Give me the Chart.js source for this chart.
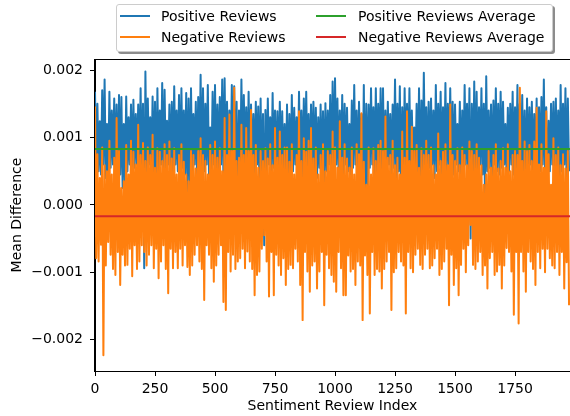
<!DOCTYPE html>
<html>
<head>
<meta charset="utf-8">
<script src="https://cdn.jsdelivr.net/npm/chart.js@4.4.1/dist/chart.umd.min.js"></script>
<style>
html,body{margin:0;padding:0;background:#fff;}
#wrap{position:relative;width:570px;height:416px;overflow:hidden;background:#fff;}
#c{position:absolute;left:0;top:0;}
#legend{position:absolute;left:116px;top:4px;width:435px;height:46px;border:1px solid #cccccc;border-radius:3px;background:#fff;box-shadow:2px 2px 0 rgba(0,0,0,0.45);font-family:'DejaVu Sans',sans-serif;font-size:14px;color:#000;}
#legend .h{position:absolute;height:2px;}
#legend .t{position:absolute;white-space:nowrap;line-height:16px;}
</style>
</head>
<body>
<div id="wrap">
<canvas id="c" width="570" height="416"></canvas>
<div id="legend"></div>
</div>
<script>
// ---- data (every 5th review index) ----
const indexStep = 5;
const positiveReviews = [
0.00168,0.0006,0.0015,0.0005,0.00124,0.00045,0.0017,0.0006,0.00186,0.0004,0.0012,0.0004,0.00168,0.00055,0.0014,0.0006,0.00158,0.0005,0.00149,0.00035,
0.00163,0.00045,0.0016,0.00025,0.0012,0.0003,0.00161,0.0005,0.0013,0.0006,0.00149,0.00045,0.00156,0.00055,0.00135,0.0006,0.00149,0.0005,0.00173,0.0004,
0.0015,-0.00094,0.00198,0.0005,0.00158,0.0006,0.0013,0.0005,0.00161,0.00045,0.00153,0.00005,0.00173,0.0005,0.0014,0.0006,0.00181,0.0004,0.00171,0.0005,
0.00125,0.0006,0.00149,0.0005,0.00153,0.00045,0.00176,0.0006,0.0014,0.0005,0.00163,0.0004,0.00173,0.00055,0.0014,0.00045,0.00166,0.0002,0.00158,0.00025,
0.00173,0.0005,0.00135,0.0006,0.00153,0.00045,0.0016,0.00055,0.00193,0.0004,0.00173,0.0005,0.0015,0.0006,0.00178,0.00045,0.00115,0.0005,0.00168,0.0006,
0.00178,0.00045,0.00149,0.00055,0.0016,0.0006,0.00186,0.0004,0.00188,0.0005,0.00153,0.0006,0.0014,0.00045,0.00178,0.00055,0.00176,0.0003,0.00153,-0.0001,
0.0014,0.00045,0.00186,0.00055,0.00163,0.0006,0.00145,0.0004,0.00168,0.0005,0.00149,0.00055,0.00135,0.00045,0.00153,0.0006,0.00146,0.0003,0.00158,0.00025,
0.00135,-0.0006,0.00141,0.0005,0.00158,0.0006,0.0013,0.00045,0.00166,0.00055,0.0014,0.0004,0.00139,0.0005,0.00153,0.0006,0.00139,0.00045,0.0012,0.0003,
0.00149,0.0002,0.00135,0.0003,0.00163,0.0005,0.00144,0.0006,0.0013,0.00045,0.00168,0.00055,0.0014,0.0004,0.00158,0.0006,0.00168,0.0005,0.00135,0.00045,
0.00149,0.0006,0.00153,0.0005,0.00144,0.0004,0.0013,0.00055,0.00149,0.00045,0.00139,0.0003,0.00151,0.0005,0.0014,0.0006,0.00163,0.00035,0.00183,0.0005,
0.00188,0.0006,0.00158,0.00045,0.0014,0.00055,0.00163,0.0004,0.0015,0.0006,0.00144,0.0005,0.0012,0.00045,0.00155,0.00055,0.00178,0.0006,0.0014,0.0004,
0.00153,0.0005,0.00135,0.0002,0.00178,-0.0001,0.0015,0.0003,0.00149,0.00055,0.00173,0.0006,0.00145,0.00045,0.00173,0.0005,0.0015,0.0006,0.00173,0.0004,
0.00173,0.00025,0.0014,0.0005,0.00153,0.0006,0.00135,0.00045,0.00149,0.00055,0.00186,0.0004,0.0015,0.0005,0.00176,0.00005,0.00145,0.0004,0.00173,0.0006,
0.0015,0.0005,0.00173,0.00045,0.0014,0.0006,0.00115,0.0005,0.0015,0.0004,0.00173,0.00025,0.00155,0.0005,0.00196,0.0006,0.00145,0.00045,0.00153,0.00055,
0.00158,0.0006,0.0014,0.0004,0.00178,0.0005,0.0015,0.0006,0.00168,0.00045,0.00145,0.00055,0.00181,0.0004,0.0015,0.0006,0.00173,0.0005,0.00153,0.00045,
0.00149,0.0006,0.0012,0.0005,0.00153,0.0004,0.0014,0.00055,0.00178,0.0006,0.0015,0.00045,0.00173,-0.0005,0.0015,0.0003,0.00183,0.00025,0.00168,0.0005,
0.00145,0.0006,0.00173,0.00045,0.0015,0.0001,0.00191,0.0005,0.0014,0.00055,0.00149,0.0004,0.00155,0.0006,0.00173,0.0005,0.0015,0.00045,0.00168,0.00055,
0.00153,0.0006,0.0012,0.0004,0.00144,0.0005,0.0015,0.0006,0.00168,0.00045,0.00145,0.00055,0.00178,0.0004,0.0015,0.0005,0.00163,0.0003,0.0014,0.00025,
0.00158,0.0005,0.00145,0.0006,0.00153,0.00045,0.00135,0.00055,0.00158,0.00005,0.00145,0.0005,0.0016,0.0006,0.00186,0.00045,0.00145,0.00005,0.00125,0.0005,
0.0015,0.0006,0.00153,0.00045,0.00158,0.00055,0.0014,0.0004,0.00178,0.0005,0.0015,0.0006,0.00173,0.0003,0.00158,0.0005
];
const negativeReviews = [
0.00146,-0.00079,0.00075,-0.00084,0.0004,-0.00059,0.00085,-0.00223,0.00059,-0.0009,0.0005,-0.00055,0.00095,-0.00074,0.00045,-0.00095,0.0007,-0.00104,0.00129,-0.0007,
0.0008,-0.00119,0.00025,-0.00074,0.00035,-0.0009,0.00089,-0.00089,0.00045,-0.00065,0.00095,-0.00106,0.00079,-0.0006,0.0006,-0.00095,0.00119,-0.00084,0.00074,-0.0006,
0.00092,-0.0007,0.00065,-0.0009,0.00085,-0.00074,0.00074,-0.0006,0.00104,-0.00094,0.00055,-0.00065,0.00084,-0.00109,0.00079,-0.00084,0.00065,-0.0006,0.0009,-0.00095,
0.00074,-0.00131,0.00094,-0.00065,0.00069,-0.00094,0.00084,-0.0007,0.00045,-0.00094,0.00074,-0.00065,0.0009,-0.0009,0.00064,-0.0006,0.00045,-0.00092,0.00035,-0.00104,
0.0008,-0.0009,0.00074,-0.00074,0.00054,-0.0006,0.0008,-0.00084,0.00099,-0.00095,0.00074,-0.00141,0.00065,-0.0006,0.00045,-0.00074,0.00089,-0.00094,0.00074,-0.00114,
0.00094,-0.0009,0.0007,-0.00074,0.00084,-0.0006,0.0005,-0.00144,0.00129,-0.00156,0.00074,-0.0007,0.00134,-0.00099,0.0008,-0.00074,0.00174,-0.00095,0.00065,-0.00084,
0.0007,-0.00079,0.00119,-0.00065,0.00074,-0.00094,0.00114,-0.00069,0.0008,-0.00084,0.00141,-0.00095,0.00074,-0.00134,0.00089,-0.00104,0.00055,-0.00099,0.0008,-0.00065,
0.00065,-0.00045,0.00084,-0.00084,0.00069,-0.00136,0.0009,-0.0007,0.00059,-0.00134,0.00114,-0.00074,0.0007,-0.0009,0.00109,-0.00104,0.00074,-0.00079,0.00085,-0.00119,
0.00085,-0.00095,0.00064,-0.00089,0.0009,-0.00094,0.00045,-0.00065,0.00074,-0.00084,0.00139,-0.00119,0.00065,-0.00171,0.00099,-0.0007,0.00079,-0.00099,0.00095,-0.00129,
0.00114,-0.0009,0.00069,-0.00084,0.00085,-0.00124,0.00045,-0.00099,0.00074,-0.0007,0.0009,-0.00149,0.0005,-0.00074,0.0008,-0.00094,0.00074,-0.00104,0.00109,-0.00114,
0.00085,-0.00129,0.00055,-0.0007,0.00124,-0.00094,0.0007,-0.00134,0.0009,-0.00134,0.00069,-0.00075,0.00055,-0.00099,0.00085,-0.00095,0.00045,-0.00119,0.0009,-0.00084,
0.00075,-0.0009,0.00136,-0.00171,0.00064,-0.00075,0.0003,-0.00104,0.00085,-0.00161,0.00045,-0.0007,0.00084,-0.00104,0.00065,-0.00095,0.00089,-0.00099,0.00095,-0.00124,
0.0008,-0.00095,0.00131,-0.00084,0.0007,-0.0007,0.00074,-0.00156,0.00095,-0.001,0.00059,-0.00094,0.0007,-0.0007,0.00045,-0.00084,0.00109,-0.0009,0.0007,-0.00161,
0.00139,-0.0007,0.00065,-0.00094,0.00116,-0.001,0.0008,-0.00074,0.00089,-0.00065,0.00055,-0.00089,0.00084,-0.00095,0.00074,-0.00074,0.00095,-0.00065,0.00074,-0.00094,
0.00085,-0.0009,0.00059,-0.00079,0.00045,-0.00065,0.00106,-0.00104,0.00065,-0.00095,0.00079,-0.00084,0.0009,-0.00065,0.00059,-0.00149,0.00149,-0.00074,0.00074,-0.00119,
0.00065,-0.00094,0.00084,-0.00134,0.00059,-0.00089,0.00085,-0.00065,0.00074,-0.001,0.00059,-0.0006,0.00094,-0.0003,0.0008,-0.00089,0.00074,-0.00095,0.0009,-0.00084,
0.0007,-0.0007,0.00059,-0.00104,0.0003,-0.0009,0.00045,-0.00124,0.0008,-0.00079,0.00055,-0.0007,0.00074,-0.00104,0.0009,-0.00099,0.00054,-0.00089,0.00065,-0.00124,
0.00084,-0.0009,0.00055,-0.00064,0.0009,-0.0007,0.0005,-0.00099,0.00074,-0.00163,0.0008,-0.0007,0.00074,-0.00176,0.00174,-0.0007,0.00065,-0.00099,0.00094,-0.00129,
0.0008,-0.0007,0.00089,-0.00084,0.00065,-0.00095,0.00094,-0.00119,0.00144,-0.0007,0.0006,-0.00094,0.0009,-0.00065,0.00055,-0.001,0.00139,-0.00065,0.00075,-0.00079,
0.0003,-0.0009,0.00099,-0.00094,0.00074,-0.0007,0.00085,-0.00104,0.00059,-0.0007,0.00075,-0.00124,0.00054,-0.00085,0.0008,-0.00149
];
const positiveAverage = 0.00083;
const negativeAverage = -0.00017;
const averageSpan = [0, 1999];
const seriesLabels = ['Positive Reviews', 'Negative Reviews', 'Positive Reviews Average', 'Negative Reviews Average'];
const seriesColors = ['#1f77b4', '#ff7f0e', '#2ca02c', '#d62728'];
const xTickValues = [0, 250, 500, 750, 1000, 1250, 1500, 1750];
const xTickLabels = ['0', '250', '500', '750', '1000', '1250', '1500', '1750'];
const yTickValues = [-0.002, -0.001, 0, 0.001, 0.002];
const yTickLabels = ['\u22120.002', '\u22120.001', '0.000', '0.001', '0.002'];
const xTitle = 'Sentiment Review Index';
const yTitle = 'Mean Difference';

// ---- legend (matplotlib-style, two columns) ----
const legendSlots = [
  {h: 3, t: 44, y: 10.7},
  {h: 3, t: 44, y: 32.3},
  {h: 199, t: 241, y: 10.7},
  {h: 199, t: 241, y: 32.3}
];
const legend = document.getElementById('legend');
seriesLabels.forEach((lab, i) => {
  const s = legendSlots[i];
  const h = document.createElement('div');
  h.className = 'h';
  h.style.left = s.h + 'px'; h.style.width = '30px';
  h.style.top = (s.y - 1) + 'px'; h.style.background = seriesColors[i];
  legend.appendChild(h);
  const t = document.createElement('div');
  t.className = 't';
  t.style.left = s.t + 'px'; t.style.top = (s.y - 8) + 'px';
  t.textContent = lab;
  legend.appendChild(t);
});

// ---- chart ----
Chart.defaults.font.family = "'DejaVu Sans', sans-serif";
Chart.defaults.font.size = 14;
Chart.defaults.color = '#000';

const toPoints = arr => arr.map((v, i) => ({x: i * indexStep, y: v}));

const spines = {
  id: 'spines',
  afterDatasetsDraw(chart) {
    const {ctx, chartArea: a} = chart;
    ctx.save();
    ctx.strokeStyle = '#000';
    ctx.lineWidth = 1;
    ctx.beginPath();
    ctx.moveTo(a.left - 0.5, Math.round(a.top) + 0.5);
    ctx.lineTo(chart.width, Math.round(a.top) + 0.5);
    ctx.moveTo(Math.round(a.left) - 0.5, a.top);
    ctx.lineTo(Math.round(a.left) - 0.5, a.bottom + 0.5);
    ctx.moveTo(a.left - 1, Math.round(a.bottom) + 0.5);
    ctx.lineTo(chart.width, Math.round(a.bottom) + 0.5);
    ctx.stroke();
    ctx.restore();
  }
};

const lineStyle = {pointRadius: 0, borderWidth: 2, tension: 0, borderJoinStyle: 'round', fill: false};

new Chart(document.getElementById('c'), {
  type: 'line',
  data: {
    datasets: [
      Object.assign({label: seriesLabels[0], data: toPoints(positiveReviews), borderColor: seriesColors[0], order: 4}, lineStyle),
      Object.assign({label: seriesLabels[1], data: toPoints(negativeReviews), borderColor: seriesColors[1], order: 3}, lineStyle),
      Object.assign({label: seriesLabels[2], data: averageSpan.map(x => ({x, y: positiveAverage})), borderColor: seriesColors[2], order: 2}, lineStyle),
      Object.assign({label: seriesLabels[3], data: averageSpan.map(x => ({x, y: negativeAverage})), borderColor: seriesColors[3], order: 1}, lineStyle)
    ]
  },
  options: {
    responsive: false,
    animation: false,
    devicePixelRatio: 1,
    parsing: false,
    layout: {padding: {top: 59, left: 0, right: 0, bottom: 0}},
    plugins: {legend: {display: false}, tooltip: {enabled: false}},
    scales: {
      x: {
        type: 'linear', min: 0, max: 1979,
        afterFit(s) { s.height = 45; },
        afterBuildTicks(s) { s.ticks = xTickValues.map(v => ({value: v})); },
        ticks: {autoSkip: false, maxRotation: 0, padding: 5, color: '#000',
                callback: (v, i) => xTickLabels[i]},
        grid: {drawOnChartArea: false, tickLength: 5, tickColor: '#000', tickWidth: 1},
        border: {display: true, color: '#000', width: 1},
        title: {display: true, text: xTitle, color: '#000', padding: {top: 0, bottom: 1.5}}
      },
      y: {
        type: 'linear', min: -0.002465, max: 0.002165,
        afterFit(s) { s.width = 95; },
        afterBuildTicks(s) { s.ticks = yTickValues.map(v => ({value: v})); },
        ticks: {autoSkip: false, padding: 7, color: '#000',
                callback: (v, i) => yTickLabels[i]},
        grid: {drawOnChartArea: false, tickLength: 5, tickColor: '#000', tickWidth: 1},
        border: {display: true, color: '#000', width: 1},
        title: {display: true, text: yTitle, color: '#000', padding: {top: 8.6, bottom: 0}}
      }
    }
  },
  plugins: [spines]
});
</script>
</body>
</html>
